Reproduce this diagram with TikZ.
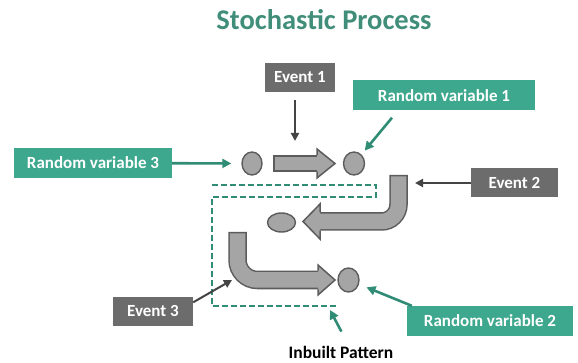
\documentclass[tikz,border=0pt]{standalone}
\usepackage{fontspec}
\setmainfont{Carlito}
\usetikzlibrary{arrows.meta,shapes.geometric}

\definecolor{titleteal}{RGB}{64,142,122}
\definecolor{boxteal}{RGB}{62,168,142}
\definecolor{lineteal}{RGB}{48,140,116}
\definecolor{boxgray}{RGB}{108,108,108}
\definecolor{linegray}{RGB}{68,68,68}
\definecolor{blockfill}{RGB}{165,165,165}
\definecolor{blockedge}{RGB}{92,92,92}

\tikzset{
    evbox/.style={fill=boxgray, text=white, font=\bfseries\fontsize{17}{20}\selectfont, minimum height=29pt, inner sep=0pt},
    rvbox/.style={evbox, fill=boxteal, minimum height=30pt},
    evarrow/.style={draw=linegray, line width=2pt, -{Triangle[length=8pt,width=8pt]}},
    rvarrow/.style={draw=lineteal, line width=2.6pt, -{Triangle[length=9pt,width=9pt]}},
    blob/.style={ellipse, fill=blockfill, draw=blockedge, line width=1.4pt, inner sep=0pt},
    dashline/.style={draw=lineteal, line width=1.8pt, dash pattern=on 6pt off 3pt}
}

\begin{document}
\begin{tikzpicture}[x=1pt, y=-1pt]
\useasboundingbox (0,0) rectangle (578,363);

% Title
\node[anchor=base, text=titleteal, font=\bfseries\fontsize{28.5}{32}\selectfont] (title) at (324,30) {Stochastic Process};

% Dashed pattern outline
\draw[dashline] (212,185) -- (376,185) -- (376,197) -- (212,197) -- (212,306) -- (338,306);

% Straight block arrow
\draw[line width=16.5pt, blockedge] (273,163.5) -- (319,163.5);
\draw[line width=13.5pt, blockfill] (274.5,163.5) -- (319,163.5);
\fill[blockfill] (317,149) -- (335,163.5) -- (317,178) -- cycle;
\draw[line width=1.5pt, blockedge] (317,155.25) -- (317,149) -- (335,163.5) -- (317,178) -- (317,171.75);

% Bent block arrow, top right
\draw[line width=18.5pt, blockedge, rounded corners=17pt] (398.5,175) |- (318,221.5);
\draw[line width=15.5pt, blockfill, rounded corners=17pt] (398.5,176.5) |- (318,221.5);
\fill[blockfill] (320,204) -- (303,221.5) -- (320,239) -- cycle;
\draw[line width=1.5pt, blockedge] (320,212.25) -- (320,204) -- (303,221.5) -- (320,239) -- (320,230.75);

% Bent block arrow, bottom left
\draw[line width=18.5pt, blockedge, rounded corners=20pt] (237.5,232) |- (320,280);
\draw[line width=15.5pt, blockfill, rounded corners=20pt] (237.5,233.5) |- (320,280);
\fill[blockfill] (318,265) -- (335,280) -- (318,295) -- cycle;
\draw[line width=1.5pt, blockedge] (318,270.75) -- (318,265) -- (335,280) -- (318,295) -- (318,289.25);

% Random variables as dots
\node[blob, minimum width=20pt, minimum height=23pt] (rv3dot) at (252,163.5) {};
\node[blob, minimum width=21pt, minimum height=23pt] (rv1dot) at (354,163.5) {};
\node[blob, minimum width=28pt, minimum height=19pt] (middot) at (281.5,222.5) {};
\node[blob, minimum width=21pt, minimum height=24pt] (rv2dot) at (348.5,280) {};

% Labels
\node[evbox, minimum width=70pt] (ev1) at (300,77.5) {Event 1};
\node[rvbox, minimum width=182pt] (rv1) at (444,95.5) {Random variable 1};
\node[rvbox, minimum width=158pt] (rv3) at (93,163) {Random variable 3};
\node[evbox, minimum width=87pt] (ev2) at (514.5,183) {Event 2};
\node[evbox, minimum width=80pt] (ev3) at (153,311) {Event 3};
\node[rvbox, minimum width=166pt] (rv2) at (490,321) {Random variable 2};
\node[anchor=base, font=\bfseries\fontsize{17.5}{20}\selectfont] (pat) at (341,358) {Inbuilt Pattern};

% Pointers
\coordinate (ev1tip) at (295,141);
\coordinate (ev2tip) at (415,183);
\coordinate (ev3tip) at (232,280);
\coordinate (pattip) at (330,310);
\draw[evarrow, shorten <=8pt] (ev1.south -| ev1tip) -- (ev1tip);
\draw[evarrow] (ev2.west) -- (ev2tip);
\draw[evarrow] ([yshift=-6pt]ev3.north east) -- (ev3tip);
\draw[rvarrow, shorten >=10pt] (rv3) -- (rv3dot);
\draw[rvarrow, shorten >=5pt] ([xshift=-52pt,yshift=-7pt]rv1.south) -- (rv1dot);
\draw[rvarrow, shorten >=8pt] ([xshift=5pt]rv2.north west) -- (rv2dot);
\draw[rvarrow, shorten <=12pt] ([xshift=6pt]pat.north) -- (pattip);
\end{tikzpicture}
\end{document}
